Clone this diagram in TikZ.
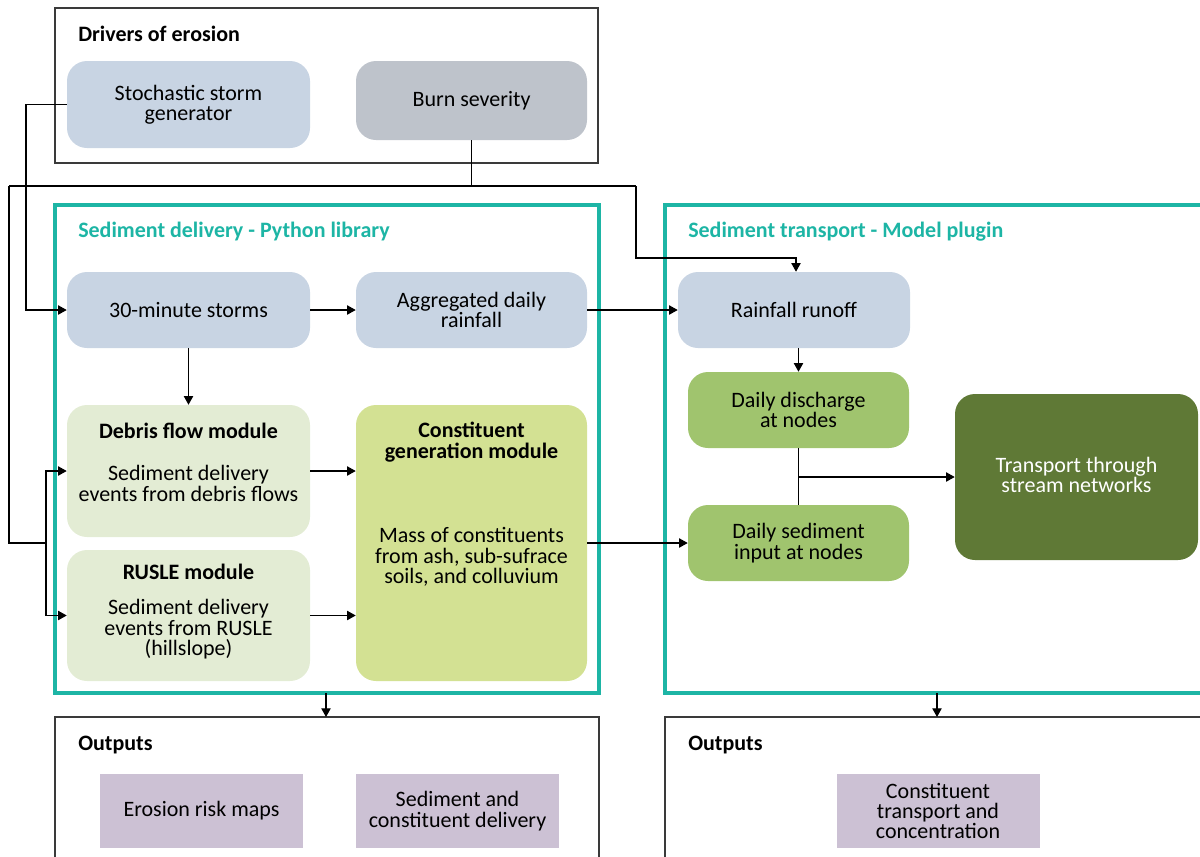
\documentclass[tikz,border=0pt]{standalone}
\usepackage{fontspec}
\setmainfont{Carlito}
\usetikzlibrary{arrows.meta}
\definecolor{tealline}{HTML}{1DB5A5}
\definecolor{framegray}{HTML}{3A3A3A}
\definecolor{bluebox}{HTML}{C8D4E3}
\definecolor{graybox}{HTML}{BEC3CB}
\definecolor{palegreen}{HTML}{E3ECD4}
\definecolor{limegreen}{HTML}{D3E193}
\definecolor{midgreen}{HTML}{A0C46E}
\definecolor{darkgreen}{HTML}{5F7936}
\definecolor{lilac}{HTML}{CCC1D4}
\tikzset{
  frame/.style={draw=framegray, line width=1.1pt},
  tealframe/.style={draw=tealline, line width=2.4pt},
  frametitle/.style={anchor=west, font=\fontsize{16.5}{18}\selectfont\bfseries, inner sep=0pt},
  tealtitle/.style={frametitle, text=tealline},
  rbox/.style={rounded corners=15pt, inner sep=0pt, align=center,
    font=\fontsize{16.5}{15.3}\selectfont},
  sbox/.style={inner sep=0pt, align=center, font=\fontsize{16.5}{15.3}\selectfont},
  txt/.style={inner sep=0pt, align=center, font=\fontsize{16.5}{15.3}\selectfont},
  btxt/.style={txt, font=\fontsize{16.5}{15.3}\selectfont\bfseries},
  conn/.style={line width=0.9pt, draw=black},
  arr/.style={conn, -{Triangle[length=6.5pt,width=7pt]}},
}
\begin{document}
\begin{tikzpicture}[x=0.75pt,y=-0.75pt]
\useasboundingbox (0,0) rectangle (1200,857);
\clip (0,0) rectangle (1200,857);

% frames
\draw[frame] (55,8) rectangle (598,163);
\node[frametitle] (tdrivers) at (78,34) {Drivers of erosion};
\draw[tealframe] (55,205) rectangle (599,693);
\node[tealtitle] (tdelivery) at (78,232) {Sediment delivery - Python library};
\draw[tealframe] (665,205) rectangle (1210,693);
\node[tealtitle] (ttransport) at (688,232) {Sediment transport - Model plugin};
\draw[frame] (55,717) rectangle (599,880);
\node[frametitle] (tout1) at (78,745) {Outputs};
\draw[frame] (665,717) rectangle (1210,880);
\node[frametitle] (tout2) at (688,745) {Outputs};

% drivers
\node[rbox, fill=bluebox, minimum width=182.25pt, minimum height=65.25pt] (storm) at (188.5,104.5) {Stochastic storm\\generator};
\node[rbox, fill=graybox, minimum width=173.25pt, minimum height=59.25pt] (burn) at (471.5,100.5) {Burn severity};

% sediment delivery
\node[rbox, fill=bluebox, minimum width=182.25pt, minimum height=57pt] (storms30) at (188.5,310) {30-minute storms};
\node[rbox, fill=bluebox, minimum width=173.25pt, minimum height=57pt] (aggr) at (471.5,310) {Aggregated daily\\rainfall};
\node[rbox, fill=palegreen, minimum width=182.25pt, minimum height=99pt] (debris) at (188.5,471) {};
\node[btxt] (debrist) at (188.5,431) {Debris flow module};
\node[txt] (debrisb) at (188.5,483.5) {Sediment delivery\\events from debris flows};
\node[rbox, fill=palegreen, minimum width=182.25pt, minimum height=98.25pt] (rusle) at (188.5,615.5) {};
\node[btxt] (ruslet) at (188.5,572) {RUSLE module};
\node[txt] (rusleb) at (188.5,629.5) {Sediment delivery\\events from RUSLE\\(hillslope)};
\node[rbox, fill=limegreen, minimum width=173.25pt, minimum height=207pt] (const) at (471.5,543) {};
\node[btxt] (constt) at (471.5,442) {Constituent\\generation module};
\node[txt] (constb) at (471.5,557) {Mass of constituents\\from ash, sub-sufrace\\soils, and colluvium};

% sediment transport
\node[rbox, fill=bluebox, minimum width=174pt, minimum height=57pt] (runoff) at (794,310) {Rainfall runoff};
\node[rbox, fill=midgreen, minimum width=165.75pt, minimum height=57pt] (disch) at (798.5,410) {Daily discharge\\at nodes};
\node[rbox, fill=midgreen, minimum width=165.75pt, minimum height=57pt] (sedin) at (798.5,543) {Daily sediment\\input at nodes};
\node[rbox, fill=darkgreen, minimum width=182.25pt, minimum height=124.5pt, text=white] (stream) at (1076.5,477) {};
\node[txt, text=white] (streamt) at (1076.5,475) {Transport through\\stream networks};

% outputs
\node[sbox, fill=lilac, minimum width=152.25pt, minimum height=55.5pt] (riskmaps) at (201.5,811) {Erosion risk maps};
\node[sbox, fill=lilac, minimum width=152.25pt, minimum height=55.5pt] (seddel) at (457.5,811) {Sediment and\\constituent delivery};
\node[sbox, fill=lilac, minimum width=152.25pt, minimum height=55.5pt] (consttr) at (938,811) {Constituent\\transport and\\concentration};

% routing points
\coordinate (stormbend) at (26,104.5);
\coordinate (burnbus) at (471.5,186);
\coordinate (busleft) at (9,186);
\coordinate (busright) at (636,186);
\coordinate (leftdown) at (9,543);
\coordinate (fork) at (46,543);
\coordinate (runofftop) at (796,258);
\coordinate (sedjoin) at (798.5,477);
\coordinate (delbottom) at (326,693);
\coordinate (deltop) at (326,717);
\coordinate (trbottom) at (937,693);
\coordinate (trtop) at (937,717);

% connectors
\draw[arr] (storm.west) -- (stormbend) |- (storms30.west);
\draw[conn] (burn.south) -- (burnbus);
\draw[conn] (busleft) -- (busright);
\draw[conn] (busleft) -- (leftdown) -- (fork);
\draw[arr] (fork) |- (debris.west);
\draw[arr] (fork) |- (rusle.west);
\draw[arr] (busright) |- (runofftop) -- (runoff.north -| runofftop);
\draw[arr] (storms30) -- (aggr);
\draw[arr] (storms30) -- (debris);
\draw[arr] (aggr) -- (runoff);
\draw[arr] (runoff.south -| disch.north) -- (disch.north);
\draw[arr] (debris.east) -- (debris.east -| const.west);
\draw[arr] (rusle.east) -- (rusle.east -| const.west);
\draw[arr] (const.east |- sedin.west) -- (sedin.west);
\draw[conn] (disch.south) -- (sedin.north);
\draw[arr] (sedjoin) -- (sedjoin -| stream.west);
\draw[arr] (delbottom) -- (deltop);
\draw[arr] (trbottom) -- (trtop);
\end{tikzpicture}
\end{document}
